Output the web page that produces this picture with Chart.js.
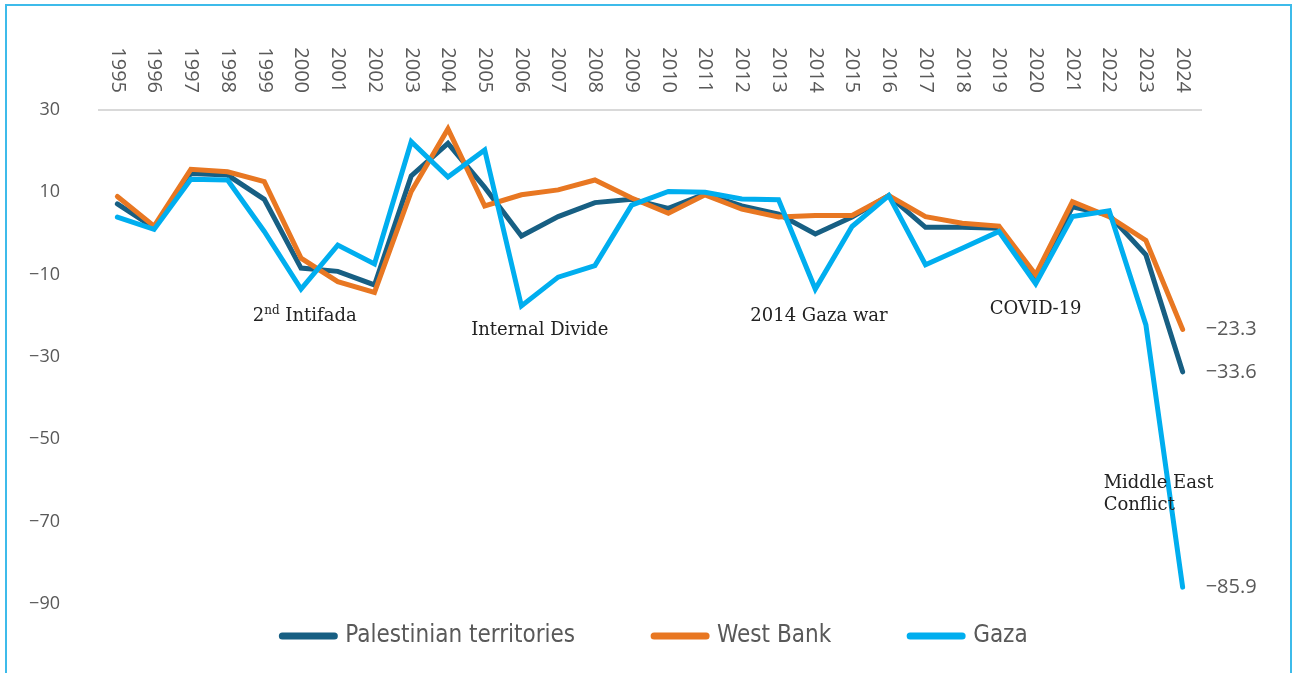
<!DOCTYPE html>
<html>
<head>
<meta charset="utf-8">
<script src="https://cdn.jsdelivr.net/npm/chart.js@4.4.1/dist/chart.umd.min.js"></script>
<style>
  html, body { margin: 0; padding: 0; background: #fff; overflow: hidden; }
  #frame { position: absolute; left: 5px; top: 4px; width: 1283px; height: 720px;
           border: 2px solid #3dbbea; border-bottom: none; }
  #grafica { position: absolute; left: 0; top: 0; }
</style>
</head>
<body>
<div id="frame"></div>
<canvas id="grafica" width="1292" height="673"></canvas>
<script>
const years = ['1995','1996','1997','1998','1999','2000','2001','2002','2003','2004',
               '2005','2006','2007','2008','2009','2010','2011','2012','2013','2014',
               '2015','2016','2017','2018','2019','2020','2021','2022','2023','2024'];

const territories = [7.2, 1.4, 14.6, 14.2, 8.3, -8.4, -9.2, -12.5, 14.0, 21.9,
                     11.2, -0.6, 4.1, 7.5, 8.3, 6.1, 9.6, 6.7, 4.7, -0.1,
                     4.0, 9.2, 1.5, 1.5, 1.3, -10.9, 6.5, 4.5, -5.2, -33.6];
const westBank = [9.0, 1.8, 15.6, 15.0, 12.6, -6.0, -11.7, -14.3, 10.2, 25.4,
                  6.7, 9.4, 10.6, 13.0, 8.6, 4.9, 9.4, 5.9, 4.0, 4.4,
                  4.4, 9.2, 4.1, 2.5, 1.8, -10.0, 7.7, 4.1, -1.7, -23.3];
const gaza = [4.0, 1.0, 13.2, 13.0, 0.5, -13.5, -2.8, -7.4, 22.3, 13.7,
              20.3, -17.6, -10.6, -7.8, 6.9, 10.2, 10.0, 8.4, 8.2, -13.5,
              1.7, 9.2, -7.6, -3.6, 0.5, -12.2, 4.1, 5.5, -22.2, -85.9];

const seriesNames = ['Palestinian territories', 'West Bank', 'Gaza'];
const colors = ['#175f83', '#e87722', '#00aeef'];
const yTicks = [30, 10, -10, -30, -50, -70, -90];

// event notes: [text, category index, value]
const notes = [
  ['Internal Divide', 11.5, -23.6],
  ['2014 Gaza war', 19.1, -20.0],
  ['COVID\u201119', 25, -18.3]
];

const minus = v => String(v).replace('-', '\u2212');

const extras = {
  id: 'extras',
  afterDraw(chart) {
    const {ctx, chartArea} = chart;
    const x = chart.scales.x, y = chart.scales.y;
    ctx.save();

    // year labels on top, rotated
    ctx.font = '20px "Open Sans"';
    ctx.fillStyle = '#595959';
    years.forEach((yr, i) => {
      ctx.save();
      ctx.translate(x.getPixelForValue(i), 93);
      ctx.rotate(Math.PI / 2);
      ctx.textAlign = 'right';
      ctx.textBaseline = 'middle';
      ctx.fillText(yr, 0, 0);
      ctx.restore();
    });

    // end values
    ctx.font = '20px "Open Sans"';
    ctx.textAlign = 'left';
    ctx.textBaseline = 'middle';
    const last = years.length - 1;
    [territories, westBank, gaza].forEach(s => {
      ctx.fillText(minus(s[last].toFixed(1)), x.getPixelForValue(last) + 23, y.getPixelForValue(s[last]));
    });

    // notes
    ctx.fillStyle = '#222';
    ctx.font = '18px "DejaVu Serif"';
    ctx.textAlign = 'center';
    notes.forEach(n => {
      ctx.fillText(n[0], x.getPixelForValue(n[1]), y.getPixelForValue(n[2]));
    });

    // 2nd Intifada with superscript
    const ix = x.getPixelForValue(5.1), iy = y.getPixelForValue(-20);
    ctx.textAlign = 'left';
    const a = ctx.measureText('2').width;
    ctx.font = '12px "DejaVu Serif"';
    const b = ctx.measureText('nd').width;
    ctx.font = '18px "DejaVu Serif"';
    const c = ctx.measureText(' Intifada').width;
    let sx = ix - (a + b + c) / 2;
    ctx.fillText('2', sx, iy);
    ctx.font = '12px "DejaVu Serif"';
    ctx.fillText('nd', sx + a, iy - 5);
    ctx.font = '18px "DejaVu Serif"';
    ctx.fillText(' Intifada', sx + a + b, iy);

    // Middle East Conflict
    const mx = x.getPixelForValue(26.85);
    ctx.fillText('Middle East', mx, y.getPixelForValue(-60.8));
    ctx.fillText('Conflict', mx, y.getPixelForValue(-66.1));

    // legend
    ctx.font = '24px "Liberation Sans Narrow", "DejaVu Sans Condensed", sans-serif';
    const sw = 52, gap = 11, spacing = 75;
    const widths = seriesNames.map(t => sw + 4 + gap + ctx.measureText(t).width);
    const total = widths.reduce((p, q) => p + q, 0) + spacing * (widths.length - 1);
    let lx = (chartArea.left + chartArea.right) / 2 + 3 - total / 2;
    const ly = 636;
    ctx.textBaseline = 'middle';
    seriesNames.forEach((t, i) => {
      ctx.beginPath();
      ctx.lineCap = 'round';
      ctx.lineWidth = 7;
      ctx.strokeStyle = colors[i];
      ctx.moveTo(lx + 4, ly);
      ctx.lineTo(lx + 4 + sw, ly);
      ctx.stroke();
      ctx.fillStyle = '#595959';
      ctx.fillText(t, lx + 4 + sw + gap, ly);
      lx += widths[i] + spacing;
    });

    ctx.restore();
  }
};

const graph = document.querySelector('#grafica');

const data = {
  labels: years,
  datasets: [
    { label: seriesNames[0], data: territories, borderColor: colors[0], backgroundColor: colors[0], order: 3 },
    { label: seriesNames[1], data: westBank, borderColor: colors[1], backgroundColor: colors[1], order: 2 },
    { label: seriesNames[2], data: gaza, borderColor: colors[2], backgroundColor: colors[2], order: 1 }
  ].map(d => Object.assign(d, { borderWidth: 5, pointRadius: 0, tension: 0, borderCapStyle: 'round' }))
};

const config = {
  type: 'line',
  data: data,
  options: {
    responsive: false,
    devicePixelRatio: 1,
    animation: false,
    layout: { padding: { left: 0, top: 0, right: 91, bottom: 69 } },
    plugins: {
      legend: { display: false },
      tooltip: { enabled: false }
    },
    scales: {
      x: {
        position: 'top',
        offset: true,
        grid: { display: false },
        border: { display: true, color: '#d9d9d9', width: 2 },
        ticks: { display: false },
        afterFit: s => { s.height = 110; }
      },
      y: {
        min: -90,
        max: 30,
        grid: { display: false },
        border: { display: false },
        afterBuildTicks: s => { s.ticks = yTicks.map(v => ({ value: v })); },
        ticks: {
          padding: 31,
          color: '#595959',
          font: { family: 'Open Sans', size: 18 },
          callback: v => minus(v)
        },
        afterFit: s => { s.width = 99; }
      }
    }
  },
  plugins: [extras]
};

new Chart(graph, config);
</script>
</body>
</html>
